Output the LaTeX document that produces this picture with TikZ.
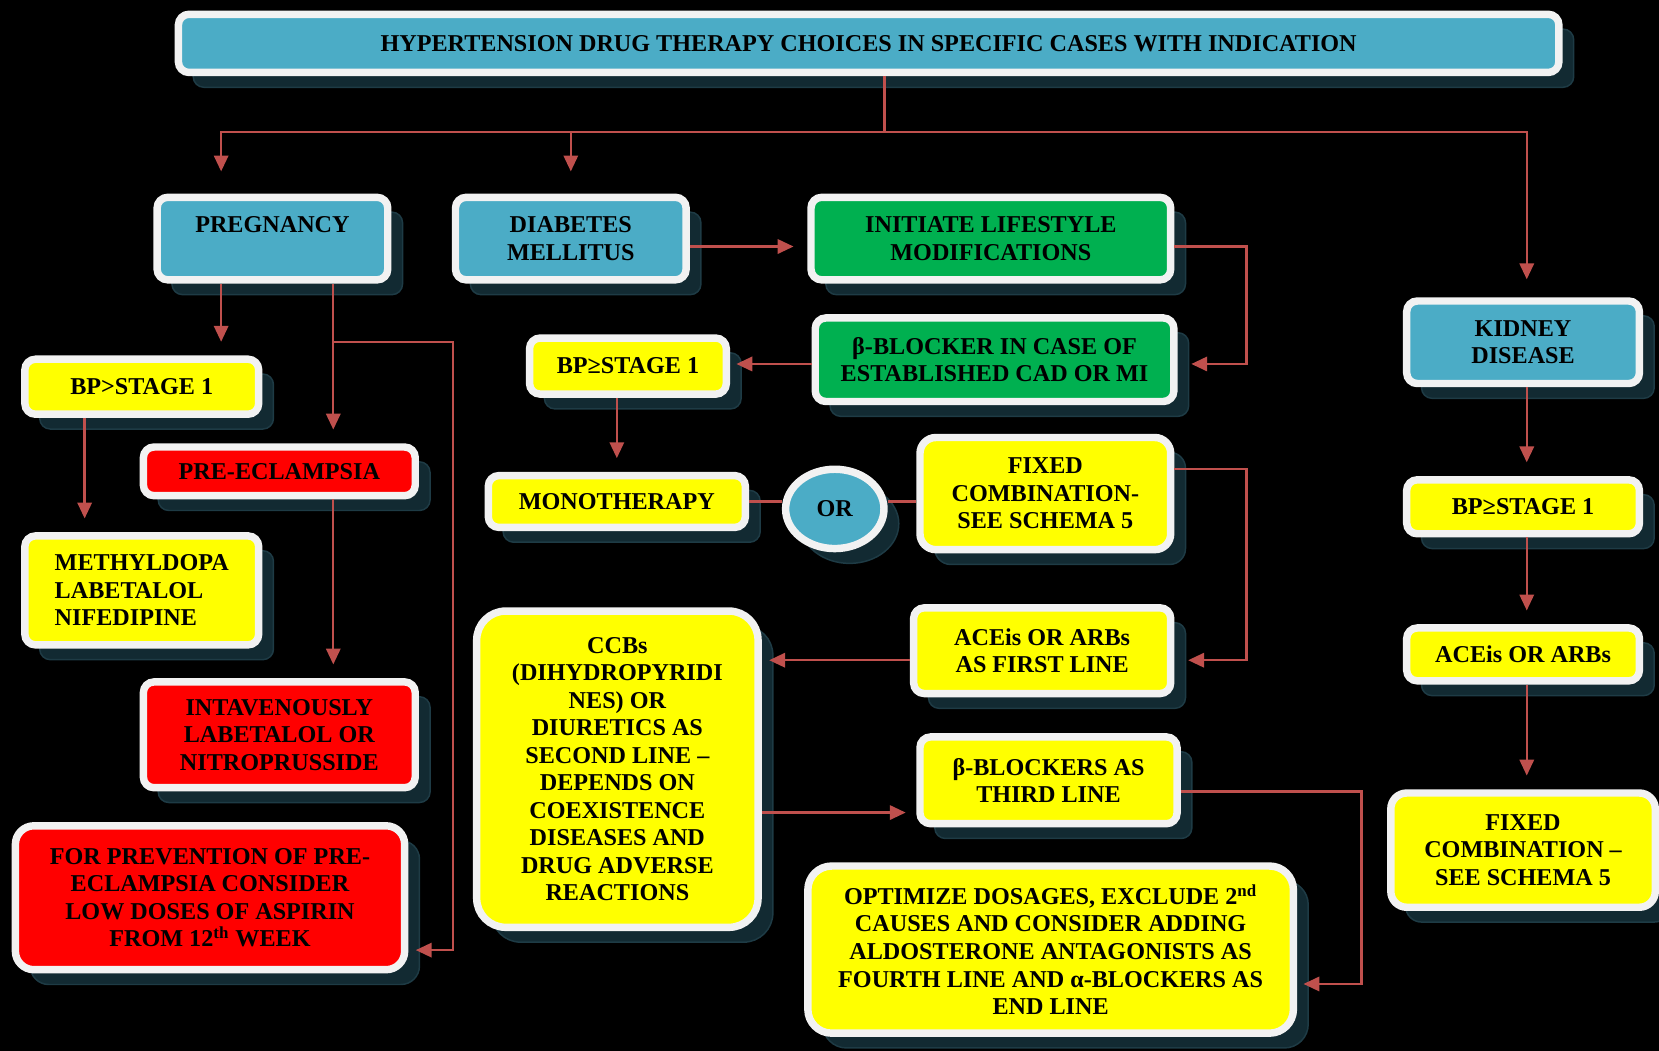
\documentclass[tikz,border=0pt]{standalone}
\usepackage{fontspec}
\setmainfont{Liberation Serif}
\usepackage{tikz}
\usetikzlibrary{positioning, arrows.meta, shapes.geometric, shadows, calc}
\definecolor{clrcase}{HTML}{4BACC6}
\definecolor{clrlifestyle}{HTML}{00B050}
\definecolor{clrdrug}{HTML}{FFFF00}
\definecolor{clremergency}{HTML}{FF0000}
\definecolor{clrframe}{HTML}{F2F2F2}
\definecolor{clrshadow}{HTML}{122A32}
\definecolor{clrshadow_edge}{HTML}{1E3B45}
\definecolor{clrlink}{HTML}{C0504D}
\definecolor{clrpage}{HTML}{000000}

\begin{document}
\begin{tikzpicture}[
    x=0.02cm, y=-0.02cm,
    every node/.style={font=\fontsize{13}{14.8}\selectfont\bfseries, text=black},
    block/.style={draw=clrframe, line width=4pt, rounded corners=0.2cm, align=center, inner sep=2pt,
                  drop shadow={shadow xshift=0.28cm, shadow yshift=-0.28cm, opacity=1,
                               fill=clrshadow, draw=clrshadow_edge, line width=0.8pt}},
    arrow/.style={-{Triangle[length=0.3cm, width=0.27cm]}, line width=1.3pt, color=clrlink, shorten >=0.26cm},
    link/.style={line width=1.3pt, color=clrlink},
]
\useasboundingbox[fill=clrpage] (0,0) rectangle (1568,993);
\node[block, fill=clrcase, minimum width=26.1cm, minimum height=1.1cm, font=\fontsize{13}{14}\selectfont\bfseries] (n_title) at (821,41) {HYPERTENSION DRUG THERAPY CHOICES IN SPECIFIC CASES WITH INDICATION};
\node[block, fill=clrcase, minimum width=4.36cm, minimum height=1.56cm] (n_pregnancy) at (257.5,225.5) {PREGNANCY\\\mbox{}};
\node[block, fill=clrcase, minimum width=4.36cm, minimum height=1.56cm] (n_diabetes) at (539.5,225.5) {DIABETES\\MELLITUS};
\node[block, fill=clrlifestyle, minimum width=6.8cm, minimum height=1.56cm] (n_lifestyle) at (936.5,225.5) {INITIATE LIFESTYLE\\MODIFICATIONS};
\node[block, fill=clrlifestyle, minimum width=6.78cm, minimum height=1.58cm] (n_beta_cad) at (940,340) {β-BLOCKER IN CASE OF\\ESTABLISHED CAD OR MI};
\node[block, fill=clrdrug, minimum width=3.72cm, minimum height=1.06cm] (n_bp_mid) at (593.5,346) {BP≥STAGE 1};
\node[block, fill=clrdrug, minimum width=4.86cm, minimum height=0.98cm] (n_mono) at (583,474) {MONOTHERAPY};
\node[block, ellipse, fill=clrcase, minimum width=1.86cm, minimum height=1.5cm, inner sep=0pt] (n_or) at (789,481) {OR};
\node[block, fill=clrdrug, minimum width=4.74cm, minimum height=2.12cm, rounded corners=0.3cm] (n_fixed_mid) at (988,466.5) {FIXED\\COMBINATION-\\SEE SCHEMA 5};
\node[block, fill=clrdrug, minimum width=4.86cm, minimum height=1.62cm] (n_ace_mid) at (985,615) {ACEis OR ARBs\\AS FIRST LINE};
\node[block, fill=clrdrug, minimum width=5.32cm, minimum height=5.98cm, rounded corners=0.55cm] (n_ccb) at (583.5,727) {CCBs\\(DIHYDROPYRIDI\\NES) OR\\DIURETICS AS\\SECOND LINE –\\DEPENDS ON\\COEXISTENCE\\DISEASES AND\\DRUG ADVERSE\\REACTIONS};
\node[block, fill=clrdrug, minimum width=4.86cm, minimum height=1.64cm] (n_beta_third) at (991,737.5) {β-BLOCKERS AS\\THIRD LINE};
\node[block, fill=clrdrug, minimum width=9.18cm, minimum height=3.16cm, rounded corners=0.45cm] (n_optimize) at (993,897.5) {OPTIMIZE DOSAGES, EXCLUDE 2\textsuperscript{nd}\\CAUSES AND CONSIDER ADDING\\ALDOSTERONE ANTAGONISTS AS\\FOURTH LINE AND α-BLOCKERS AS\\END LINE};
\node[block, fill=clrdrug, minimum width=4.42cm, minimum height=1.04cm] (n_bp_left) at (134,365.5) {BP>STAGE 1};
\node[block, fill=clrdrug, minimum width=4.42cm, minimum height=2.06cm, align=left] (n_drugs_preg) at (134,558) {METHYLDOPA\\LABETALOL\\NIFEDIPINE};
\node[block, fill=clremergency, minimum width=5.14cm, minimum height=0.92cm] (n_preeclampsia) at (264,445.5) {PRE-ECLAMPSIA};
\node[block, fill=clremergency, minimum width=5.14cm, minimum height=2.0cm] (n_iv) at (264,694.5) {INTAVENOUSLY\\LABETALOL OR\\NITROPRUSSIDE};
\node[block, fill=clremergency, minimum width=7.36cm, minimum height=2.72cm, rounded corners=0.35cm] (n_aspirin) at (198.5,848.5) {FOR PREVENTION OF PRE-\\ECLAMPSIA CONSIDER\\LOW DOSES OF ASPIRIN\\FROM 12\textsuperscript{th} WEEK};
\node[block, fill=clrcase, minimum width=4.4cm, minimum height=1.56cm] (n_kidney) at (1439.5,323.5) {KIDNEY\\DISEASE};
\node[block, fill=clrdrug, minimum width=4.4cm, minimum height=1.02cm] (n_bp_right) at (1439.5,479) {BP≥STAGE 1};
\node[block, fill=clrdrug, minimum width=4.4cm, minimum height=1.0cm] (n_ace_right) at (1439.5,618.5) {ACEis OR ARBs};
\node[block, fill=clrdrug, minimum width=5.0cm, minimum height=2.16cm, rounded corners=0.3cm] (n_fixed_right) at (1439.5,803.5) {FIXED\\COMBINATION –\\SEE SCHEMA 5};
\coordinate (bus) at (836,125);
\coordinate (preg_tap) at (315,323);
\coordinate (kidney_tap) at (1443,125);
\draw[link] (n_title.south -| bus) -- (bus);
\draw[arrow, shorten >=0.42cm] (bus) -| ([xshift=-0.97cm]n_pregnancy.north);
\draw[arrow, shorten >=0.42cm] (bus) -| (n_diabetes.north);
\draw[arrow, shorten >=0.34cm] (bus) -| (n_kidney.north -| kidney_tap);
\draw[arrow] ([yshift=-0.15cm]n_diabetes.east) -- ([yshift=-0.15cm]n_lifestyle.west);
\draw[arrow] ([yshift=-0.15cm]n_lifestyle.east) -- ++(68,0) |- ([yshift=-0.08cm]n_beta_cad.east);
\draw[arrow, shorten >=0.12cm] ([yshift=-0.08cm]n_beta_cad.west) -- ([yshift=-0.08cm]n_beta_cad.west -| n_bp_mid.east);
\draw[arrow] (n_mono.north |- n_bp_mid.south) -- (n_mono.north);
\draw[link] (n_mono.east) -- (n_mono.east -| n_or.west);
\draw[link] (n_mono.east -| n_or.east) -- (n_mono.east -| n_fixed_mid.west);
\draw[arrow] ([yshift=0.47cm]n_fixed_mid.east) -- ++(68,0) |- ([yshift=-0.18cm]n_ace_mid.east);
\draw[arrow, shorten >=0.14cm] ([yshift=-0.18cm]n_ace_mid.west) -- ([yshift=-0.18cm]n_ace_mid.west -| n_ccb.east);
\draw[arrow, shorten >=0.2cm] ([yshift=-0.61cm]n_beta_third.west -| n_ccb.east) -- ([yshift=-0.61cm]n_beta_third.west);
\draw[arrow, shorten >=0.12cm] ([yshift=-0.21cm]n_beta_third.east) -- ++(171,0) |- ([yshift=-0.65cm]n_optimize.east);
\draw[arrow] ([xshift=-0.97cm]n_pregnancy.south) -- ([xshift=-0.97cm]n_pregnancy.south |- n_bp_left.north);
\draw[arrow] ([xshift=-1.08cm]n_bp_left.south) -- ([xshift=-1.08cm]n_bp_left.south |- n_drugs_preg.north);
\draw[arrow] (n_pregnancy.south -| preg_tap) -- (n_preeclampsia.north -| preg_tap);
\draw[arrow, shorten >=0.14cm] (preg_tap) -- ++(113,0) |- ([yshift=-0.99cm]n_aspirin.east);
\draw[arrow] (n_preeclampsia.south -| preg_tap) -- (n_iv.north -| preg_tap);
\draw[arrow] (n_kidney.south -| kidney_tap) -- (n_bp_right.north -| kidney_tap);
\draw[arrow] (n_bp_right.south -| kidney_tap) -- (n_ace_right.north -| kidney_tap);
\draw[arrow] (n_ace_right.south -| kidney_tap) -- (n_fixed_right.north -| kidney_tap);
\end{tikzpicture}
\end{document}
